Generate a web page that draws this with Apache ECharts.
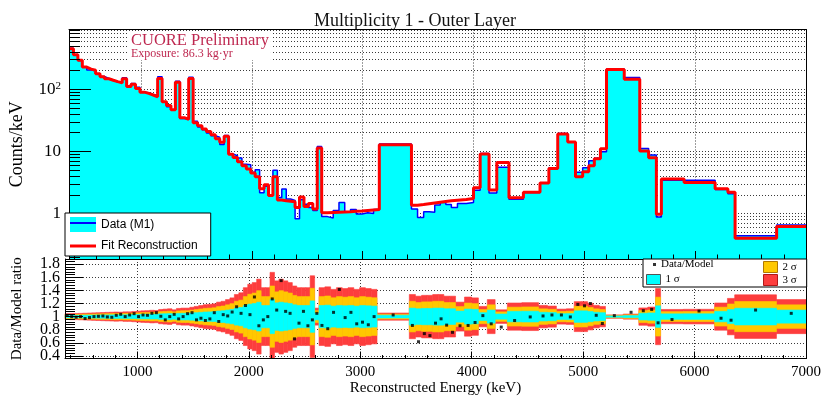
<!DOCTYPE html>
<html><head><meta charset="utf-8">
<script src="https://cdn.jsdelivr.net/npm/echarts@6/dist/echarts.min.js"></script>
<style>html,body{margin:0;padding:0;background:#fff}#c{width:830px;height:399px}</style>
</head><body><div id="c"></div>
<script>
// ---- data ----
const binEdges = [350,390,430,470,510,550,590,630,670,710,750,790,830,870,910,950,990,1030,1070,1110,1150,1190,1230,1270,1310,1350,1390,1430,1470,1510,1550,1590,1630,1670,1710,1750,1790,1830,1870,1910,1950,1990,2030,2070,2110,2150,2190,2230,2270,2310,2350,2390,2430,2470,2510,2550,2590,2630,
  2682,2734,2786,2838,2890,2942,2994,3046,3098,3150,
  3440,
  3495,3550,3600,3650,3700,3750,3800,3855,3935,4000,4060,
  4140,4210,4320,
  4450,4600,4680,4760,4850,4920,4985,5040,5090,5145,5200,5360,5500,5580,5650,5695,5900,6180,6295,6360,6735,7000];
// fit reconstruction (counts/keV) per bin
const fitValues = [450,360,295,228,212,203,178,160,148,140,133,127,148,111,121,103,90,86,81,76,150,63,55,47,130,35,33,150,29,26,23,21,18.5,16,14,17.5,9.0,8.0,6.8,5.9,5.2,4.5,3.9,2.5,2.9,1.95,3.9,1.65,1.6,1.58,1.55,1.25,1.85,1.3,1.45,1.18,11.4,
  1.03,1.04,1.05,1.06,1.07,1.09,1.1,1.12,1.14,1.16,
  12.8,
  1.36,1.40,1.44,1.48,1.52,1.56,1.60,1.64,1.68,1.74,2.6,
  9.1,2.4,6.6,
  1.8,2.2,3.1,5.3,19,14.2,3.9,4.7,5.9,7.6,11,209,145,10.2,7.9,0.97,3.6,3.15,2.5,2.2,0.40,0.62];
// data / model ratio per bin
const ratioValues = [1.02,1.0,0.99,1.0,0.97,0.985,1.0,1.005,1.01,0.995,0.99,1.02,1.035,1.0,1.025,1.045,1.0,1.025,1.02,1.05,1.06,1.005,0.95,1.0,1.035,0.965,1.0,1.045,1.06,0.95,0.975,0.94,0.965,1.06,0.925,1.03,1.01,1.07,1.15,1.05,1.17,1.03,1.3,0.86,0.95,1.0,1.27,1.1,1.55,1.08,1.05,0.66,0.9,1.08,0.86,0.95,1.05,
  0.865,0.815,1.065,1.415,0.985,1.065,0.89,0.915,0.875,1.0,
  1.025,
  0.865,0.616,0.74,0.71,0.90,0.966,0.87,0.76,0.86,0.865,0.91,
  1.015,0.89,0.84,
  0.94,0.995,1.01,1.025,1.025,0.995,1.186,1.165,1.2,1.02,0.895,1.015,1.066,1.09,1.11,0.905,0.955,1.085,0.975,0.945,1.1,1.05];
// 1-sigma half width of the ratio band per bin
const sigmaValues = [0.017,0.018,0.018,0.019,0.02,0.021,0.022,0.023,
  0.024,0.025,0.026,0.027,0.026,0.028,0.028,0.03,
  0.032,0.034,0.035,0.037,
  0.036,0.042,0.044,0.046,0.04,0.048,0.05,
  0.05,
  0.055,0.06,0.065,0.07,0.072,
  0.075,0.085,0.09,0.1,0.11,0.13,0.14,
  0.17,0.19,0.2,0.22,0.17,0.17,0.26,0.21,0.22,0.21,
  0.2,0.18,0.17,0.17,0.17,0.24,0.05,
  0.17,0.175,0.16,0.17,0.165,0.17,0.16,0.17,0.165,0.16,
  0.021,
  0.13,0.12,0.125,0.125,0.13,0.13,0.12,0.12,0.085,0.115,0.11,
  0.06,0.1,0.04,
  0.08,0.082,0.066,0.062,0.044,0.046,0.088,0.088,0.078,0.066,0.06,0.01,0.015,0.051,0.056,0.165,0.042,0.043,0.08,0.107,0.128,0.1];
const bandLevels = [{name:'3 σ', k:2.6, color:'#fd3d3d'},
                    {name:'2 σ', k:1.8, color:'#ffc800'},
                    {name:'1 σ', k:1.0, color:'#00ffff'}];

// ---- build series data ----
function steps(vals){const p=[];for(let i=0;i<vals.length;i++){p.push([binEdges[i],vals[i]]);p.push([binEdges[i+1],vals[i]]);}return p;}
const dataValues = fitValues.map((f,i)=>f*ratioValues[i]);
const bandData = sigmaValues.map((s,i)=>[binEdges[i],binEdges[i+1],s]);
const ratioPoints = ratioValues.map((r,i)=>[(binEdges[i]+binEdges[i+1])/2,r]);

const SERIF='Liberation Serif', SANS='Liberation Sans';
const GRIDLINE={show:true,lineStyle:{type:[1,2],color:'#3a3a3a',width:1}};
const X0=350,X1=7000,Y0=0.185,Y1=920,R0=0.36,R1=1.88;

function bandRenderer(k){
  return function(params,api){
    const lo=api.value(0),hi=api.value(1),s=api.value(2)*k;
    const a=api.coord([lo,1+s]),b=api.coord([hi,1-s]);
    const cs=params.coordSys;
    const r=echarts.graphic.clipRectByRect({x:a[0],y:a[1],width:b[0]-a[0],height:b[1]-a[1]},{x:cs.x,y:cs.y,width:cs.width,height:cs.height});
    if(!r) return null;
    const c=api.visual('color');
    return {type:'rect',shape:r,style:{fill:c,stroke:c,lineWidth:0.6}};
  };
}

const chart=echarts.init(document.getElementById('c'),null,{renderer:'canvas'});
const frameLine={show:true,onZero:false,lineStyle:{color:'#000',width:1}};
const noLine={show:false,onZero:false};
const option={
  animation:false,
  backgroundColor:'#fff',
  textStyle:{fontFamily:SERIF},
  title:[
    {text:'Multiplicity 1 - Outer Layer',left:'center',top:5,textStyle:{fontFamily:SERIF,fontSize:18,fontWeight:'normal',color:'#111',lineHeight:22}},
    {text:'CUORE Preliminary',subtext:'Exposure: 86.3 kg·yr',left:129,top:32,itemGap:0,padding:[0,2,0,2],backgroundColor:'#fff',z:15,
     textStyle:{fontFamily:SERIF,fontSize:16.5,fontWeight:'normal',color:'#be2850',lineHeight:17},
     subtextStyle:{fontFamily:SERIF,fontSize:12,color:'#be2850',lineHeight:10}}
  ],
  grid:[
    {left:65,right:24,top:29.5,height:229.5},
    {left:65,right:24,top:259,height:99.5}
  ],
  xAxis:[
    {gridIndex:0,type:'value',min:X0,max:X1,z:0,position:'bottom',axisLine:noLine,axisTick:{show:false},axisLabel:{show:false},splitLine:GRIDLINE},
    {gridIndex:0,type:'value',min:X0,max:X1,z:10,position:'bottom',axisLine:frameLine,
     axisTick:{show:true,inside:true,length:8,lineStyle:{color:'#000'}},
     minorTick:{show:true,splitNumber:5,length:4.5,lineStyle:{color:'#000'}},
     axisLabel:{show:false},splitLine:{show:false}},
    {gridIndex:0,type:'value',min:0,max:1,z:10,position:'top',axisLine:frameLine,axisTick:{show:false},axisLabel:{show:false},splitLine:{show:false}},
    {gridIndex:1,type:'value',min:X0,max:X1,z:0,position:'bottom',axisLine:noLine,axisTick:{show:false},axisLabel:{show:false},splitLine:GRIDLINE},
    {gridIndex:1,type:'value',min:X0,max:X1,z:10,position:'bottom',axisLine:frameLine,
     axisTick:{show:true,inside:true,length:7,lineStyle:{color:'#000'}},
     minorTick:{show:true,splitNumber:5,length:3.5,lineStyle:{color:'#000'}},
     axisLabel:{show:true,showMinLabel:false,margin:6,fontFamily:SERIF,fontSize:15,color:'#000',formatter:v=>String(v)},
     splitLine:{show:false},
     name:'Reconstructed Energy (keV)',nameLocation:'middle',nameGap:18,
     nameTextStyle:{fontFamily:SERIF,fontSize:15,color:'#000'}}
  ],
  yAxis:[
    {gridIndex:0,type:'log',logBase:10,min:Y0,max:Y1,z:0,position:'left',axisLine:noLine,axisTick:{show:false},axisLabel:{show:false},
     splitLine:GRIDLINE,minorTick:{show:false,splitNumber:9},minorSplitLine:GRIDLINE},
    {gridIndex:0,type:'log',logBase:10,min:Y0,max:Y1,z:10,position:'left',axisLine:frameLine,
     axisTick:{show:true,inside:true,length:22,lineStyle:{color:'#000'}},
     minorTick:{show:true,splitNumber:9,length:11,lineStyle:{color:'#000'}},
     splitLine:{show:false},
     axisLabel:{show:true,showMinLabel:false,showMaxLabel:false,margin:8,color:'#000',
       formatter:function(v){const l=Math.log10(v),e=Math.round(l);if(Math.abs(l-e)>1e-6)return '';
         return e===0?'{b|1}':e===1?'{b|10}':'{b|10}{s|'+e+'}';},
       rich:{b:{fontFamily:SERIF,fontSize:17,color:'#000'},s:{fontFamily:SERIF,fontSize:11,color:'#000',verticalAlign:'top',padding:[0,0,6,0]}}},
     name:'Counts/keV',nameLocation:'middle',nameGap:43,nameTextStyle:{fontFamily:SERIF,fontSize:18,color:'#000'}},
    {gridIndex:0,type:'value',min:0,max:1,z:10,position:'right',axisLine:frameLine,axisTick:{show:false},axisLabel:{show:false},splitLine:{show:false}},
    {gridIndex:1,type:'value',min:R0,max:R1,splitNumber:8,z:0,position:'left',axisLine:noLine,axisTick:{show:false},axisLabel:{show:false},splitLine:GRIDLINE},
    {gridIndex:1,type:'value',min:R0,max:R1,splitNumber:8,z:10,position:'left',axisLine:frameLine,
     axisTick:{show:true,inside:true,length:18,lineStyle:{color:'#000'}},
     minorTick:{show:true,splitNumber:5,length:10,lineStyle:{color:'#000'}},
     splitLine:{show:false},
     axisLabel:{show:true,showMinLabel:false,showMaxLabel:false,margin:5,fontFamily:SERIF,fontSize:16,color:'#000'},
     name:'Data/Model ratio',nameLocation:'middle',nameGap:40,nameTextStyle:{fontFamily:SERIF,fontSize:15,color:'#000'}},
    {gridIndex:1,type:'value',min:0,max:1,z:10,position:'right',axisLine:frameLine,axisTick:{show:false},axisLabel:{show:false},splitLine:{show:false}}
  ],
  legend:[
    {left:65,top:213,orient:'vertical',padding:[4,13,4,5],itemWidth:26,itemHeight:15,itemGap:8,selectedMode:false,z:20,
     backgroundColor:'#fff',borderColor:'#000',borderWidth:1,
     textStyle:{fontFamily:SANS,fontSize:12,color:'#000'},
     data:[{name:'Data (M1)',icon:'rect',itemStyle:{color:'#00ffff',borderWidth:0}},
           {name:'Fit Reconstruction',icon:'path://M0,0h26v3h-26z',itemStyle:{color:'#ff0000',borderWidth:0}}]},
    {left:65,top:213,orient:'vertical',padding:[4,13,4,5],itemWidth:26,itemHeight:15,itemGap:8,selectedMode:false,z:21,
     textStyle:{fontFamily:SANS,fontSize:12,color:'rgba(0,0,0,0)'},
     data:[{name:'Data (M1)',icon:'path://M0,0h26v2h-26z',itemStyle:{color:'#0000ff',borderWidth:0}}]},
    {left:643,top:259,orient:'vertical',padding:[15,127,2,3],itemWidth:14,itemHeight:10,selectedMode:false,z:20,
     backgroundColor:'#fff',borderColor:'#000',borderWidth:1,
     textStyle:{fontFamily:SERIF,fontSize:11,color:'#000'},
     data:[{name:'1 σ',icon:'rect',itemStyle:{color:'#00ffff',borderColor:'#555',borderWidth:1}}]},
    {left:653,top:259,orient:'vertical',padding:0,itemWidth:3,itemHeight:3,selectedMode:false,z:21,
     textStyle:{fontFamily:SERIF,fontSize:11,color:'#000'},
     data:[{name:'Data/Model',icon:'rect',itemStyle:{color:'#000'}}]},
    {left:763,top:261,orient:'vertical',padding:0,itemWidth:14,itemHeight:11,itemGap:1,selectedMode:false,z:21,
     textStyle:{fontFamily:SERIF,fontSize:11,color:'#000'},
     data:[{name:'2 σ',icon:'rect',itemStyle:{color:'#ffc800',borderColor:'#b07800',borderWidth:1}},
           {name:'3 σ',icon:'rect',itemStyle:{color:'#fd3d3d',borderColor:'#b01818',borderWidth:1}}]}
  ],
  series:[
    {name:'Data (M1)',type:'line',xAxisIndex:1,yAxisIndex:1,data:steps(dataValues),symbol:'none',z:2,
     lineStyle:{color:'#0000ff',width:1.5},itemStyle:{color:'#0000ff'},
     areaStyle:{color:'#00ffff',opacity:1,origin:'start'}},
    {name:'Fit Reconstruction',type:'line',xAxisIndex:1,yAxisIndex:1,data:steps(fitValues),symbol:'none',z:3,
     lineStyle:{color:'#ff0000',width:3},itemStyle:{color:'#ff0000'}},
    ...bandLevels.map(b=>({name:b.name,type:'custom',xAxisIndex:4,yAxisIndex:4,coordinateSystem:'cartesian2d',
      renderItem:bandRenderer(b.k),data:bandData,encode:{x:[0,1],y:2},itemStyle:{color:b.color},z:2})),
    {name:'Data/Model',type:'scatter',xAxisIndex:4,yAxisIndex:4,data:ratioPoints,symbol:'rect',symbolSize:3,
     itemStyle:{color:'#000'},z:5}
  ]
};
chart.setOption(option);
</script>
</body></html>
